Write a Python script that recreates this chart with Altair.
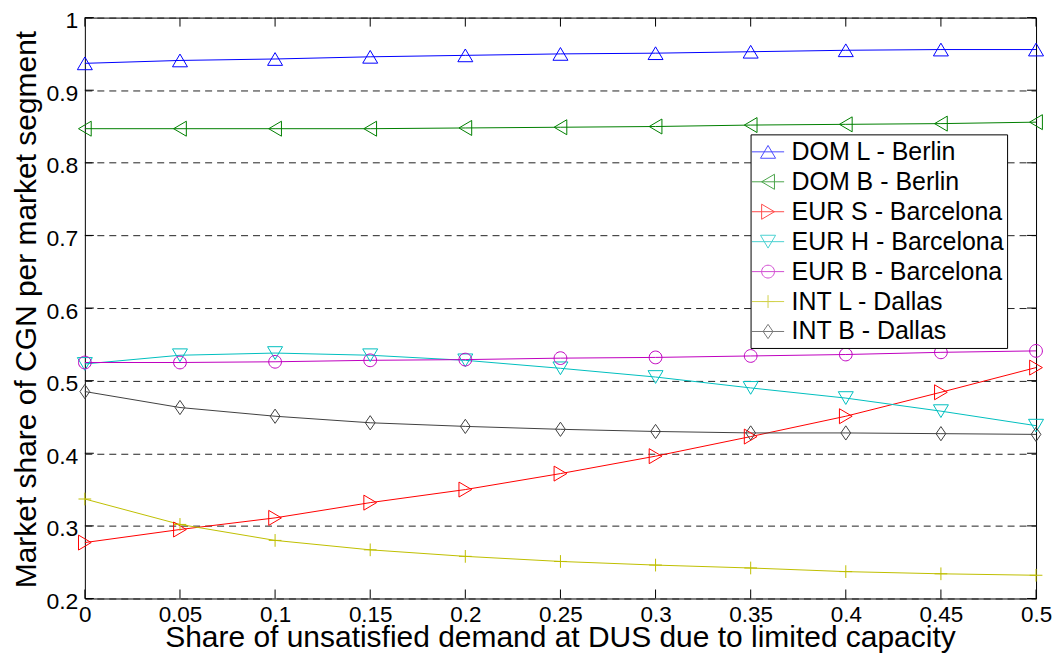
import altair as alt
import pandas as pd

# ---- data ----
x_vals = [0, 0.05, 0.1, 0.15, 0.2, 0.25, 0.3, 0.35, 0.4, 0.45, 0.5]
series_names = ["DOM L - Berlin", "DOM B - Berlin", "EUR S - Barcelona", "EUR H - Barcelona",
                "EUR B - Barcelona", "INT L - Dallas", "INT B - Dallas"]
dom_l = [0.937, 0.941, 0.943, 0.946, 0.948, 0.950, 0.951, 0.953, 0.955, 0.956, 0.956]
dom_b = [0.847, 0.847, 0.847, 0.847, 0.848, 0.849, 0.850, 0.852, 0.853, 0.854, 0.856]
eur_s = [0.277, 0.295, 0.311, 0.332, 0.350, 0.372, 0.396, 0.423, 0.451, 0.484, 0.518]
eur_h = [0.523, 0.535, 0.538, 0.535, 0.528, 0.517, 0.505, 0.490, 0.476, 0.458, 0.438]
eur_b = [0.525, 0.525, 0.526, 0.528, 0.529, 0.531, 0.532, 0.534, 0.536, 0.539, 0.541]
int_l = [0.337, 0.302, 0.280, 0.267, 0.258, 0.251, 0.246, 0.242, 0.237, 0.234, 0.232]
int_b = [0.485, 0.463, 0.451, 0.442, 0.437, 0.433, 0.430, 0.428, 0.428, 0.427, 0.426]
all_series = [dom_l, dom_b, eur_s, eur_h, eur_b, int_l, int_b]

x_ticks = [0, 0.05, 0.1, 0.15, 0.2, 0.25, 0.3, 0.35, 0.4, 0.45, 0.5]
y_ticks = [0.2, 0.3, 0.4, 0.5, 0.6, 0.7, 0.8, 0.9, 1.0]

colors = ["#0000FF", "#008000", "#FF0000", "#00BFBF", "#BF00BF", "#BFBF00", "#404040"]

# marker outlines (unit coordinates, scaled by the renderer)
marker_pts = {
    "up": [(0, -0.85), (1, 0.85), (-1, 0.85)],
    "left": [(-0.85, 0), (0.85, -1), (0.85, 1)],
    "right": [(0.85, 0), (-0.85, -1), (-0.85, 1)],
    "down": [(0, 0.85), (1, -0.85), (-1, -0.85)],
    "diamond": [(0, -0.95), (0.65, 0), (0, 0.95), (-0.65, 0)],
}
kinds = ["up", "left", "right", "down", "circle", "plus", "diamond"]


def path_for(kind, s=1.0, with_line=False):
    p = ""
    if with_line:
        p += "M-1.15,0L1.15,0"
    if kind in marker_pts:
        pts = marker_pts[kind]
        p += "M" + "L".join(f"{x*s:.3f},{y*s:.3f}" for x, y in pts) + "Z"
    elif kind == "circle":
        r = 0.85 * s
        p += f"M{r:.3f},0A{r:.3f},{r:.3f},0,1,1,{-r:.3f},0A{r:.3f},{r:.3f},0,1,1,{r:.3f},0Z"
    elif kind == "plus":
        r = 0.85 * s
        p += f"M{-r:.3f},0L{r:.3f},0M0,{-r:.3f}L0,{r:.3f}"
    return p


marker_paths = [path_for(k) for k in kinds]
legend_paths = [path_for(k, s=0.54, with_line=True) for k in kinds]

rows = []
for name, vals in zip(series_names, all_series):
    for xv, yv in zip(x_vals, vals):
        rows.append({"x": xv, "y": yv, "series": name})
df = pd.DataFrame(rows)
xt = pd.DataFrame({"t": x_ticks})
yt = pd.DataFrame({"t": y_ticks})

FONT = "Liberation Sans"
W, H = 953, 582

xscale = alt.Scale(domain=[0, 0.5], nice=False, zero=False)
yscale = alt.Scale(domain=[0.2, 1.0], nice=False, zero=False)

x_enc = alt.X("x:Q", scale=xscale, axis=alt.Axis(
    values=x_ticks, format="~g", title="Share of unsatisfied demand at DUS due to limited capacity",
    grid=False, ticks=False, tickSize=0, domain=False, labelPadding=5,
    labelFont=FONT, labelFontSize=22.5, labelColor="black",
    titleFont=FONT, titleFontSize=30, titleFontWeight="normal", titleColor="black",
    titleX=476, titleY=48, titleBaseline="alphabetic", labelFlush=False))
y_enc = alt.Y("y:Q", scale=yscale, axis=alt.Axis(
    values=y_ticks, format="~g", title="Market share of CGN per market segment",
    grid=True, gridDash=[7, 5], gridColor="#222222", gridWidth=1,
    ticks=False, tickSize=0, domain=False, labelPadding=7, labelOffset=3,
    labelFont=FONT, labelFontSize=23, labelColor="black",
    titleFont=FONT, titleFontSize=30, titleFontWeight="normal", titleColor="black",
    titleX=-58, titleY=292, titleAngle=270, titleAlign="center", titleBaseline="middle",
    labelFlush=False))

base = alt.Chart(df)
cdom = alt.Scale(domain=series_names, range=colors)

lines = base.mark_line(strokeWidth=1).encode(
    x=x_enc, y=y_enc,
    color=alt.Color("series:N", scale=cdom, legend=None),
    order="x:Q")

points = base.mark_point(filled=False, size=225, strokeWidth=1, opacity=1).encode(
    x=alt.X("x:Q", scale=xscale), y=alt.Y("y:Q", scale=yscale),
    color=alt.Color("series:N", scale=cdom, legend=None),
    shape=alt.Shape("series:N", scale=alt.Scale(domain=series_names, range=marker_paths), legend=None))

leg_props = dict(title=None, orient="none", legendX=667, legendY=117,
                 labelFont=FONT, labelFontSize=25, labelColor="black",
                 symbolSize=784, symbolStrokeWidth=1, symbolFillColor="transparent",
                 strokeColor="black", fillColor="white", padding=3, rowPadding=2,
                 labelOffset=9, labelLimit=400)

legend_layer = base.transform_filter("false").mark_point(filled=False, strokeWidth=1).encode(
    x=alt.X("x:Q", scale=xscale), y=alt.Y("y:Q", scale=yscale),
    color=alt.Color("series:N", scale=cdom, legend=alt.Legend(**leg_props)),
    shape=alt.Shape("series:N", scale=alt.Scale(domain=series_names, range=legend_paths),
                    legend=alt.Legend(**leg_props)))

tick_col = "black"
xt_bot = alt.Chart(xt).mark_rule(color=tick_col, strokeWidth=1).encode(
    x=alt.X("t:Q", scale=xscale), y=alt.value(H), y2=alt.value(H - 9))
xt_top = alt.Chart(xt).mark_rule(color=tick_col, strokeWidth=1).encode(
    x=alt.X("t:Q", scale=xscale), y=alt.value(0), y2=alt.value(9))
yt_left = alt.Chart(yt).mark_rule(color=tick_col, strokeWidth=1).encode(
    y=alt.Y("t:Q", scale=yscale), x=alt.value(0), x2=alt.value(9))
yt_right = alt.Chart(yt).mark_rule(color=tick_col, strokeWidth=1).encode(
    y=alt.Y("t:Q", scale=yscale), x=alt.value(W), x2=alt.value(W - 9))

chart = alt.layer(lines, xt_bot, xt_top, yt_left, yt_right, points, legend_layer).resolve_scale(
    color="independent", shape="independent"
).properties(
    width=W, height=H,
    autosize=alt.AutoSizeParams(type="none"),
    padding={"left": 77, "top": 9, "right": 17, "bottom": 54},
    background="white",
).configure_view(stroke="black", strokeWidth=1)

chart.save("out.html", embed_options={"renderer": "svg", "actions": False})
